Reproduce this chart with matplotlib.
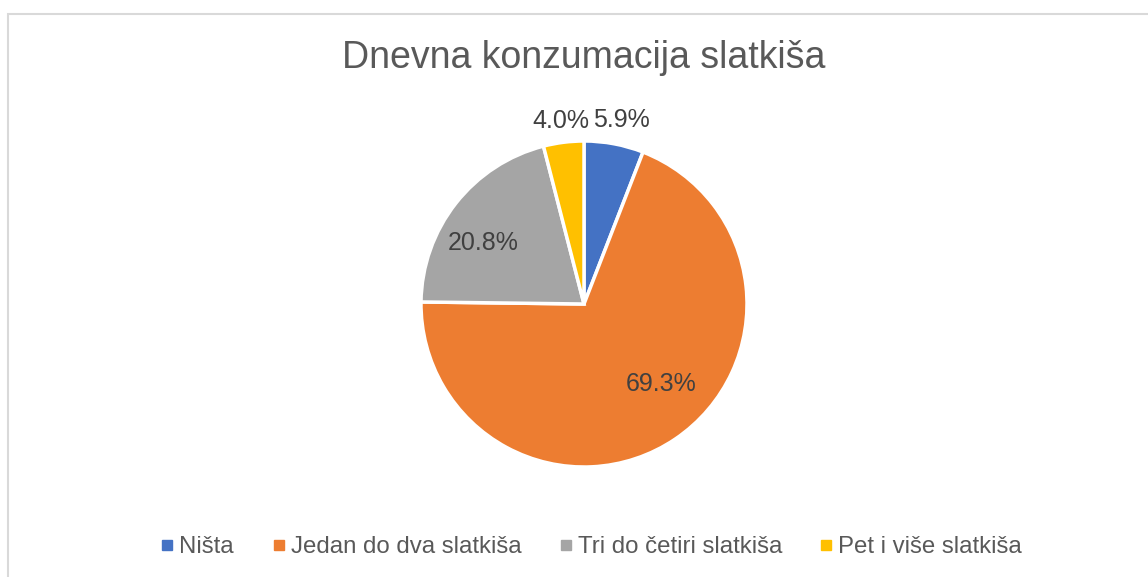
import numpy as np
import matplotlib.pyplot as plt
from matplotlib.patches import Rectangle

categories = ["Ništa", "Jedan do dva slatkiša", "Tri do četiri slatkiša", "Pet i više slatkiša"]
shares = [5.9, 69.3, 20.8, 4.0]
colors = ["#4472C4", "#ED7D31", "#A5A5A5", "#FFC000"]

# label placement: radius (pie radius = 1) and angular nudge in degrees
label_radius = [1.15, 0.68, 0.72, 1.13]
label_nudge = [-1, 10, 7, 0]

plt.rcParams['font.family'] = ['Liberation Sans', 'DejaVu Sans']

W, H = 1148, 577
fig = plt.figure(figsize=(W / 100, H / 100), dpi=100)

# chart area border (only top/left visible in the crop)
fig.add_artist(Rectangle((8 / W, -0.1), 1.2, (H - 14) / H + 0.1, transform=fig.transFigure,
                         fill=False, edgecolor="#D9D9D9", linewidth=1.5))

cx, cy, r = 584, 304, 163
ax = fig.add_axes([(cx - r) / W, (H - cy - r) / H, 2 * r / W, 2 * r / H])
wedges, _ = ax.pie(shares, colors=colors, startangle=90, counterclock=False, radius=1,
                   wedgeprops=dict(edgecolor="white", linewidth=2.5))
ax.set_xlim(-1, 1)
ax.set_ylim(-1, 1)
ax.axis("off")

for w, val, rr, nd in zip(wedges, shares, label_radius, label_nudge):
    ang = np.deg2rad((w.theta1 + w.theta2) / 2 + nd)
    ax.text(rr * np.cos(ang), rr * np.sin(ang), f"{val:.1f}%", ha="center", va="center",
            fontsize=18, color="#404040", clip_on=False)

fig.text(cx / W, 1 - 58 / H, "Dnevna konzumacija slatkiša", ha="center", va="center",
         fontsize=27, color="#595959")

handles = [plt.Line2D([], [], marker="s", linestyle="none", markersize=7,
                      markerfacecolor=c, markeredgecolor=c) for c in colors]
fig.legend(handles, categories, loc="center", bbox_to_anchor=(590 / W, 1 - 547 / H), ncol=4,
           frameon=False, fontsize=17.3, labelcolor="#595959", handletextpad=0.1,
           columnspacing=1.45, handlelength=0.8)

fig.savefig("out.png", dpi=100)
